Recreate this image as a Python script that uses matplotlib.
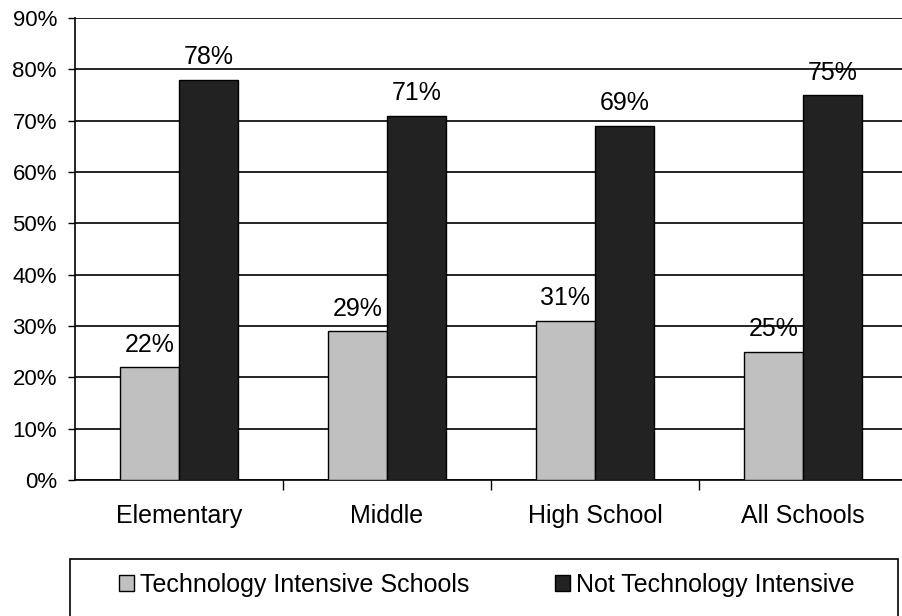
import numpy as np
import matplotlib.pyplot as plt
from matplotlib.patches import Rectangle, Patch

plt.rcParams['font.family'] = ['Liberation Sans', 'DejaVu Sans']

# Data
categories = ['Elementary', 'Middle', 'High School', 'All Schools']
tech_intensive = [22, 29, 31, 25]
not_intensive = [78, 71, 69, 75]
series_names = ['Technology Intensive Schools', 'Not Technology Intensive']

fig = plt.figure(figsize=(9.02, 6.16), dpi=100)
ax = fig.add_axes([75/902, 1 - 480/616, 832/902, 462/616])

x = np.arange(len(categories))
w = 0.285
b1 = ax.bar(x - w/2, tech_intensive, w, color='#c0c0c0', edgecolor='black', linewidth=1, zorder=3)
b2 = ax.bar(x + w/2, not_intensive, w, color='#222222', edgecolor='black', linewidth=1, zorder=3)

for bars, vals in ((b1, tech_intensive), (b2, not_intensive)):
    for r, v in zip(bars, vals):
        ax.annotate(f'{v}%', (r.get_x() + r.get_width()/2, v), xytext=(0, 7.5),
                    textcoords='offset points', ha='center', va='bottom', fontsize=18)

ax.set_xlim(-0.5, 3.5)
ax.set_ylim(0, 90)
ax.set_yticks(np.arange(0, 91, 10))
ax.set_yticklabels([f'{t}%' for t in range(0, 91, 10)], fontsize=16)
ax.yaxis.grid(True, color='black', linewidth=1.2, zorder=0)
ax.set_axisbelow(True)

# group separators as major ticks, names as minor ticks
ax.set_xticks([0.5, 1.5, 2.5])
ax.set_xticklabels([])
ax.set_xticks(x, minor=True)
ax.set_xticklabels(categories, minor=True, fontsize=18)
ax.tick_params(axis='x', which='major', direction='out', length=7, width=1)
ax.tick_params(axis='x', which='minor', length=0, pad=17)
ax.tick_params(axis='y', direction='out', length=5, width=1, pad=8)

for s in ('top', 'right'):
    ax.spines[s].set_visible(False)
for s in ('left', 'bottom'):
    ax.spines[s].set_linewidth(1.2)

# legend box
fig.patches.append(Rectangle((70/902, -0.05), 828/902, 0.05 + 57/616, transform=fig.transFigure,
                             facecolor='none', edgecolor='black', linewidth=1.2))
handles = [Patch(facecolor='#c0c0c0', edgecolor='black', linewidth=1),
           Patch(facecolor='#222222', edgecolor='black', linewidth=1)]
fig.legend(handles, series_names, loc='center', bbox_to_anchor=(487/902, 1 - 585/616),
           ncol=2, frameon=False, fontsize=18, handlelength=0.6, handleheight=0.6,
           handletextpad=0.25, columnspacing=3.4)

fig.savefig('out.png', dpi=100)
